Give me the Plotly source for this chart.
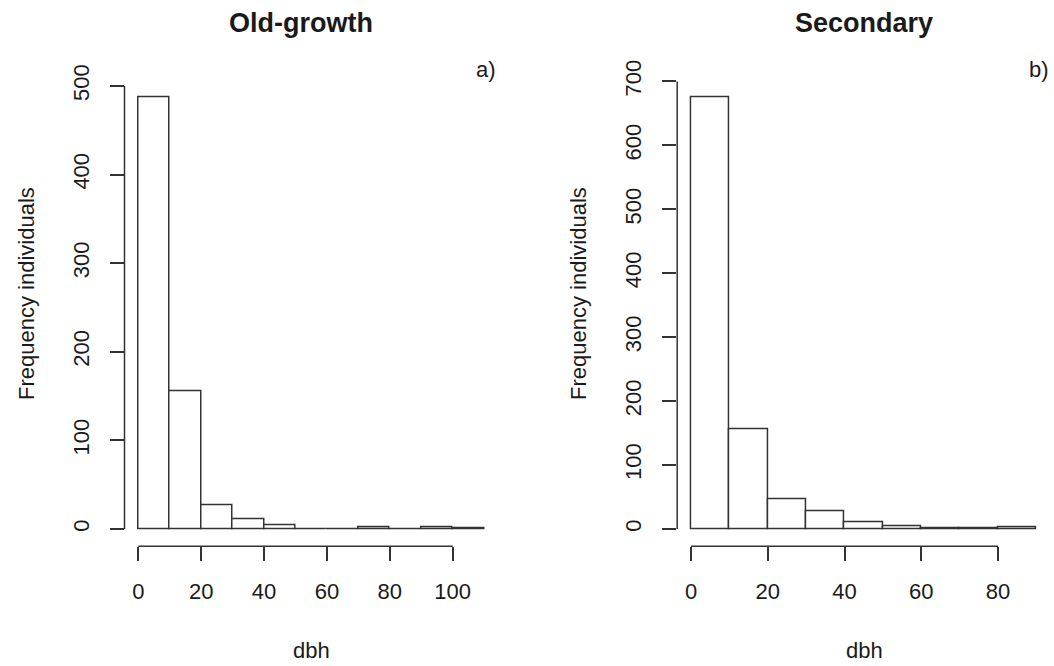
import plotly.graph_objects as go

# ---- data ----
bin_width = 10
old_edges = [0, 10, 20, 30, 40, 50, 60, 70, 80, 90, 100, 110]
old_counts = [487, 155, 27, 11, 4, 0, 0, 2, 0, 2, 1]
sec_edges = [0, 10, 20, 30, 40, 50, 60, 70, 80, 90]
sec_counts = [675, 156, 47, 27, 11, 4, 1, 1, 2]

old_xticks = [0, 20, 40, 60, 80, 100]
old_yticks = [0, 100, 200, 300, 400, 500]
sec_xticks = [0, 20, 40, 60, 80]
sec_yticks = [0, 100, 200, 300, 400, 500, 600, 700]

titles = ["Old-growth", "Secondary"]
tags = ["a)", "b)"]
x_title = "dbh"
y_title = "Frequency individuals"

# ---- geometry (page pixels); body margin removed by post_script ----
OX, OY = 0, 0
W, H = 1054, 666


def px(x):
    return (x - OX) / W


def py(y):
    return 1 - (y - OY) / H


FONT = "Liberation Sans, Arial, Helvetica, sans-serif"
INK = "#1a1a1a"
LINE = "#333333"

fig = go.Figure()


def centers(edges):
    return [(edges[i] + edges[i + 1]) / 2 for i in range(len(edges) - 1)]


fig.add_trace(go.Bar(x=centers(old_edges), y=old_counts, width=bin_width,
                     marker=dict(color="white", line=dict(color=LINE, width=1.5)),
                     xaxis="x", yaxis="y", showlegend=False))
fig.add_trace(go.Bar(x=centers(sec_edges), y=sec_counts, width=bin_width,
                     marker=dict(color="white", line=dict(color=LINE, width=1.5)),
                     xaxis="x2", yaxis="y2", showlegend=False))


def pad(lo, hi):
    d = (hi - lo) * 0.04
    return [lo - d, hi + d]


ydom = [py(546.2), py(80.2)]
xdom1 = [px(124.5), px(498)]
xdom2 = [px(677.2), px(1050.2)]

axis_common = dict(showgrid=False, zeroline=False, showline=False, ticks="outside",
                   ticklen=14, tickwidth=1.5, tickcolor=LINE, automargin=False,
                   tickfont=dict(family=FONT, size=22, color=INK))

fig.update_layout(
    template="none",
    width=W, height=H, autosize=False,
    margin=dict(l=0, r=0, t=0, b=0, pad=0),
    paper_bgcolor="white", plot_bgcolor="white",
    bargap=0,
    xaxis=dict(domain=xdom1, range=pad(old_edges[0], old_edges[-1]), tickvals=old_xticks,
               anchor="y", ticklabelstandoff=11, **axis_common),
    yaxis=dict(domain=ydom, range=pad(0, max(old_counts)), tickvals=old_yticks,
               anchor="x", tickangle=-90, ticklabelstandoff=12, **axis_common),
    xaxis2=dict(domain=xdom2, range=pad(sec_edges[0], sec_edges[-1]), tickvals=sec_xticks,
                anchor="y2", ticklabelstandoff=11, **axis_common),
    yaxis2=dict(domain=ydom, range=pad(0, max(sec_counts)), tickvals=sec_yticks,
                anchor="x2", tickangle=-90, ticklabelstandoff=12, **axis_common),
)

# R-style detached axis lines spanning first..last tick
for xa, ya, xt, yt, xd in [("x", "y", old_xticks, old_yticks, xdom1),
                           ("x2", "y2", sec_xticks, sec_yticks, xdom2)]:
    fig.add_shape(type="line", xref=xa, yref="paper", x0=min(xt), x1=max(xt),
                  y0=ydom[0], y1=ydom[0], line=dict(color=LINE, width=1.5))
    fig.add_shape(type="line", xref="paper", yref=ya, x0=xd[0], x1=xd[0],
                  y0=min(yt), y1=max(yt), line=dict(color=LINE, width=1.5))

ann = []
for t, cx in zip(titles, (301, 864)):
    ann.append(dict(text="<b>" + t + "</b>", x=px(cx), y=py(23), xref="paper", yref="paper",
                    xanchor="center", yanchor="middle", showarrow=False,
                    font=dict(family=FONT, size=27, color=INK)))
for t, rx in zip(tags, (498, 1051)):
    ann.append(dict(text=t, x=px(rx), y=py(69), xref="paper", yref="paper",
                    xanchor="right", yanchor="middle", showarrow=False,
                    font=dict(family=FONT, size=22, color=INK)))
for cx in (311, 864):
    ann.append(dict(text=x_title, x=px(cx), y=py(650), xref="paper", yref="paper",
                    xanchor="center", yanchor="middle", showarrow=False,
                    font=dict(family=FONT, size=22, color=INK)))
for cx in (27, 579):
    ann.append(dict(text=y_title, x=px(cx), y=py(294), xref="paper", yref="paper",
                    xanchor="center", yanchor="middle", textangle=-90, showarrow=False,
                    font=dict(family=FONT, size=22, color=INK)))
fig.update_layout(annotations=ann)

fig.write_html("out.html",
               config={"displayModeBar": False},
               post_script="document.body.style.margin='0';document.body.style.overflow='hidden';")
